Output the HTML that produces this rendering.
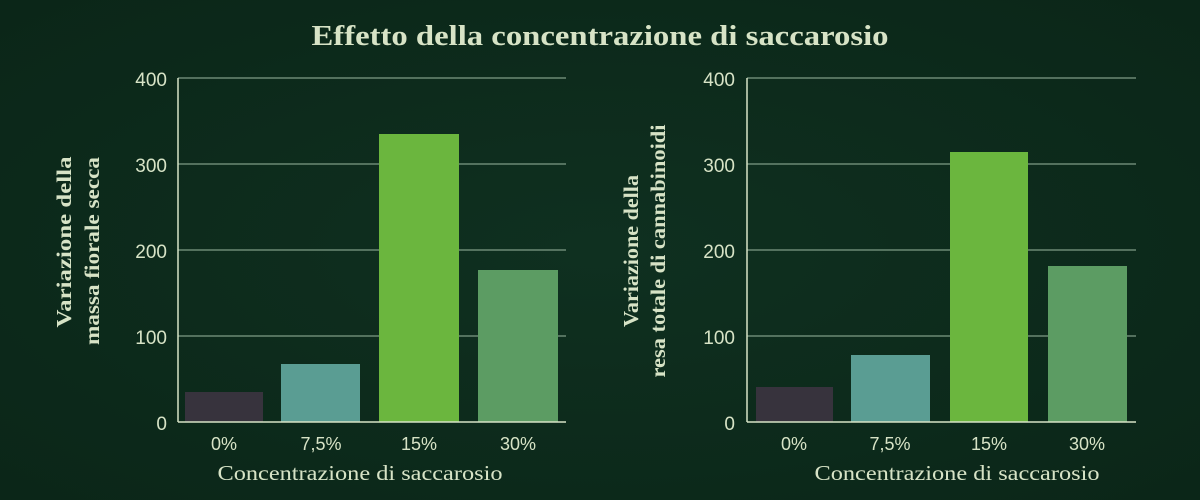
<!DOCTYPE html>
<html><head><meta charset="utf-8"><style>
html,body{margin:0;padding:0;background:#0d2a1b;}
svg{display:block}
</style></head><body>
<svg width="1200" height="500" viewBox="0 0 1200 500" xmlns="http://www.w3.org/2000/svg">
<defs>
<radialGradient id="bg" cx="50%" cy="50%" r="70%">
<stop offset="0" stop-color="#0f3020"/><stop offset="1" stop-color="#0b2618"/>
</radialGradient>
</defs>
<rect width="1200" height="500" fill="url(#bg)"/>
<text x="600" y="45" text-anchor="middle" font-family="Liberation Serif, serif" font-weight="bold" font-size="28" fill="#d7e3c6" textLength="577" lengthAdjust="spacingAndGlyphs">Effetto della concentrazione di saccarosio</text>

<g font-family="Liberation Sans, sans-serif" fill="#d7e3c6">
<!-- left chart -->
<g stroke="#7f9c86" stroke-width="1.3">
<line x1="178" y1="78" x2="566" y2="78"/><line x1="178" y1="164" x2="566" y2="164"/>
<line x1="178" y1="250" x2="566" y2="250"/><line x1="178" y1="336" x2="566" y2="336"/>
</g>
<rect x="185" y="392" width="78" height="30" fill="#37333d"/>
<rect x="281" y="364" width="79" height="58" fill="#5a9d93"/>
<rect x="379" y="134" width="80" height="288" fill="#6bb63e"/>
<rect x="478" y="270" width="80" height="152" fill="#5c9c63"/>
<line x1="178" y1="78" x2="178" y2="422" stroke="#d7e3c6" stroke-width="1.5"/>
<line x1="178" y1="422" x2="566" y2="422" stroke="#d7e3c6" stroke-width="1.5"/>
<g font-size="19" text-anchor="end">
<text x="167" y="86">400</text><text x="167" y="172">300</text><text x="167" y="258">200</text><text x="167" y="344">100</text><text x="167" y="430">0</text>
</g>
<g font-size="18" text-anchor="middle">
<text x="224" y="450">0%</text><text x="321" y="450">7,5%</text><text x="419" y="450">15%</text><text x="518" y="450">30%</text>
</g>
<text x="360" y="480" text-anchor="middle" font-family="Liberation Serif, serif" font-size="21" textLength="285" lengthAdjust="spacingAndGlyphs">Concentrazione di saccarosio</text>
<g font-family="Liberation Serif, serif" font-weight="bold" font-size="21" text-anchor="middle">
<text transform="translate(71,242) rotate(-90)" textLength="171" lengthAdjust="spacingAndGlyphs">Variazione della</text>
<text transform="translate(99,251) rotate(-90)" textLength="188" lengthAdjust="spacingAndGlyphs">massa fiorale secca</text>
</g>

<!-- right chart -->
<g stroke="#7f9c86" stroke-width="1.3">
<line x1="747" y1="78" x2="1136" y2="78"/><line x1="747" y1="164" x2="1136" y2="164"/>
<line x1="747" y1="250" x2="1136" y2="250"/><line x1="747" y1="336" x2="1136" y2="336"/>
</g>
<rect x="756" y="387" width="77" height="35" fill="#37333d"/>
<rect x="851" y="355" width="79" height="67" fill="#5a9d93"/>
<rect x="950" y="152" width="78" height="270" fill="#6bb63e"/>
<rect x="1048" y="266" width="79" height="156" fill="#5c9c63"/>
<line x1="747" y1="78" x2="747" y2="422" stroke="#d7e3c6" stroke-width="1.5"/>
<line x1="747" y1="422" x2="1136" y2="422" stroke="#d7e3c6" stroke-width="1.5"/>
<g font-size="19" text-anchor="end">
<text x="735" y="86">400</text><text x="735" y="172">300</text><text x="735" y="258">200</text><text x="735" y="344">100</text><text x="735" y="430">0</text>
</g>
<g font-size="18" text-anchor="middle">
<text x="794" y="450">0%</text><text x="890" y="450">7,5%</text><text x="989" y="450">15%</text><text x="1087" y="450">30%</text>
</g>
<text x="957" y="480" text-anchor="middle" font-family="Liberation Serif, serif" font-size="21" textLength="285" lengthAdjust="spacingAndGlyphs">Concentrazione di saccarosio</text>
<g font-family="Liberation Serif, serif" font-weight="bold" font-size="21" text-anchor="middle">
<text transform="translate(638,251) rotate(-90)" textLength="152" lengthAdjust="spacingAndGlyphs">Variazione della</text>
<text transform="translate(665,251) rotate(-90)" textLength="253" lengthAdjust="spacingAndGlyphs">resa totale di cannabinoidi</text>
</g>
</g>
</svg>
</body></html>
